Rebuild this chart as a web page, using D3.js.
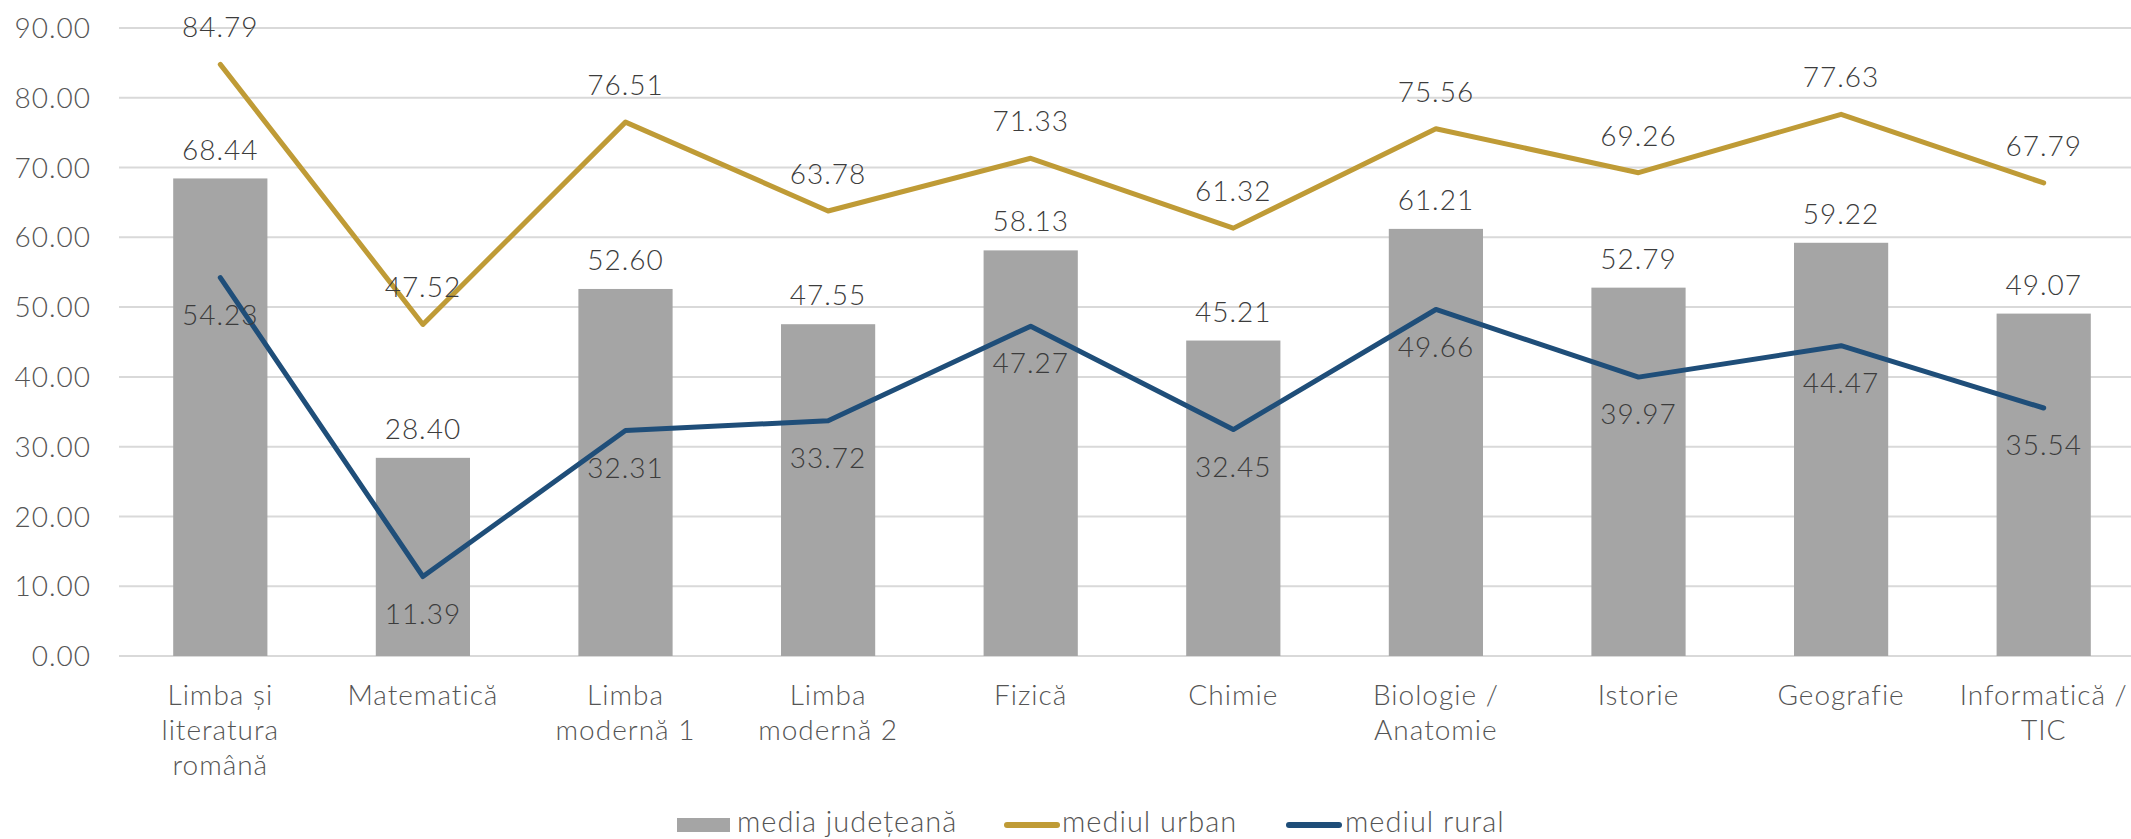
<!DOCTYPE html>
<html>
<head>
<meta charset="utf-8">
<script src="https://cdn.jsdelivr.net/npm/d3@7"></script>
<style>
  html, body { margin: 0; padding: 0; background: #fff; }
  svg { display: block; font-family: Lato, "Open Sans", sans-serif; font-weight: 300; letter-spacing: 1px; }
</style>
</head>
<body>
<svg id="chart" width="2131" height="839"></svg>
<script>
// data
var categories = ["Limba și literatura română", "Matematică", "Limba modernă 1", "Limba modernă 2", "Fizică",
    "Chimie", "Biologie / Anatomie", "Istorie", "Geografie", "Informatică / TIC"];
var tickLines = [["Limba și", "literatura", "română"], ["Matematică"], ["Limba", "modernă 1"], ["Limba", "modernă 2"],
    ["Fizică"], ["Chimie"], ["Biologie /", "Anatomie"], ["Istorie"], ["Geografie"], ["Informatică /", "TIC"]];
var mediaJudeteana = [68.44, 28.40, 52.60, 47.55, 58.13, 45.21, 61.21, 52.79, 59.22, 49.07];
var mediulUrban = [84.79, 47.52, 76.51, 63.78, 71.33, 61.32, 75.56, 69.26, 77.63, 67.79];
var mediulRural = [54.23, 11.39, 32.31, 33.72, 47.27, 32.45, 49.66, 39.97, 44.47, 35.54];
var yTicks = [0, 10, 20, 30, 40, 50, 60, 70, 80, 90];
var seriesNames = ["media județeană", "mediul urban", "mediul rural"];

var colors = {bar: "#a5a5a5", urban: "#bf9b36", rural: "#1f4e79", grid: "#d9d9d9", axisText: "#555555", label: "#3c3c3c"};
var fontSize = 28;

var svg = d3.select("#chart");
var fmt = d3.format(".2f");

var xScale = d3.scaleBand().domain(categories).range([119, 2145]).paddingInner(0.535).paddingOuter(0.2675);
var yScale = d3.scaleLinear().domain([0, 90]).range([656, 28]);
var cx = function(d, i){ return xScale(categories[i]) + xScale.bandwidth()/2; };

// gridlines + y labels
var grid = svg.append("g");
grid.selectAll("line").data(yTicks).enter().append("line")
    .attr("x1", 119).attr("x2", 2131)
    .attr("y1", function(d){ return yScale(d); }).attr("y2", function(d){ return yScale(d); })
    .attr("stroke", colors.grid).attr("stroke-width", 2);
grid.selectAll("text").data(yTicks).enter().append("text")
    .attr("x", 91).attr("y", function(d){ return yScale(d); })
    .attr("dy", "0.36em").attr("text-anchor", "end")
    .attr("font-size", fontSize).attr("fill", colors.axisText)
    .text(function(d){ return fmt(d); });

// bars
svg.append("g").selectAll("rect").data(mediaJudeteana).enter().append("rect")
    .attr("x", function(d, i){ return xScale(categories[i]); })
    .attr("width", xScale.bandwidth())
    .attr("y", function(d){ return yScale(d); })
    .attr("height", function(d){ return yScale(0) - yScale(d); })
    .attr("fill", colors.bar);

// lines
var line = d3.line().x(function(d, i){ return cx(d, i); }).y(function(d){ return yScale(d); });
[[mediulUrban, colors.urban], [mediulRural, colors.rural]].forEach(function(s){
    svg.append("path").datum(s[0]).attr("d", line)
        .attr("fill", "none").attr("stroke", s[1]).attr("stroke-width", 5)
        .attr("stroke-linejoin", "round").attr("stroke-linecap", "round");
});

// data labels
function labels(data, offset){
    svg.append("g").selectAll("text").data(data).enter().append("text")
        .attr("x", cx)
        .attr("y", function(d){ return yScale(d) + offset; })
        .attr("dy", "0.36em").attr("text-anchor", "middle")
        .attr("font-size", fontSize).attr("fill", colors.label)
        .text(function(d){ return fmt(d); });
}
labels(mediaJudeteana, -29);
labels(mediulUrban, -37);
labels(mediulRural, 37);

// x axis labels
var xl = svg.append("g").selectAll("text").data(tickLines).enter().append("text")
    .attr("text-anchor", "middle").attr("font-size", fontSize).attr("fill", colors.axisText);
xl.each(function(lines, i){
    d3.select(this).selectAll("tspan").data(lines).enter().append("tspan")
        .attr("x", cx(null, i)).attr("y", function(d, j){ return 705 + j*35; })
        .text(function(d){ return d; });
});

// legend
var legend = svg.append("g").attr("font-size", 29).attr("fill", colors.axisText);
legend.append("rect").attr("x", 677).attr("y", 818).attr("width", 53).attr("height", 14).attr("fill", colors.bar);
legend.append("text").attr("x", 737).attr("y", 832).text(seriesNames[0]);
legend.append("line").attr("x1", 1007).attr("x2", 1057).attr("y1", 825).attr("y2", 825)
    .attr("stroke", colors.urban).attr("stroke-width", 6).attr("stroke-linecap", "round");
legend.append("text").attr("x", 1062).attr("y", 832).text(seriesNames[1]);
legend.append("line").attr("x1", 1289).attr("x2", 1339).attr("y1", 825).attr("y2", 825)
    .attr("stroke", colors.rural).attr("stroke-width", 6).attr("stroke-linecap", "round");
legend.append("text").attr("x", 1345).attr("y", 832).text(seriesNames[2]);
</script>
</body>
</html>
